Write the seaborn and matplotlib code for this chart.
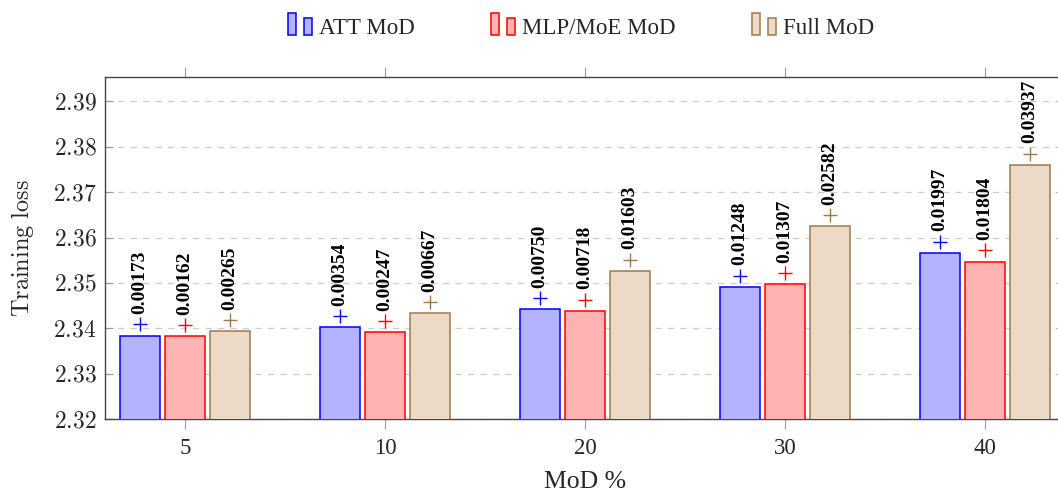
import numpy as np
import pandas as pd
import matplotlib
matplotlib.use('Agg')
import matplotlib.pyplot as plt
import seaborn as sns
from matplotlib.patches import Rectangle
from matplotlib.legend_handler import HandlerBase
from matplotlib.transforms import offset_copy

mod_pct = ['5', '10', '20', '30', '40']
series = ['ATT MoD', 'MLP/MoE MoD', 'Full MoD']

att_loss = [2.33840, 2.34021, 2.34417, 2.34915, 2.35664]
mlp_loss = [2.33829, 2.33914, 2.34385, 2.34974, 2.35471]
full_loss = [2.33932, 2.34334, 2.35270, 2.36249, 2.37604]

att_delta = ['0.00173', '0.00354', '0.00750', '0.01248', '0.01997']
mlp_delta = ['0.00162', '0.00247', '0.00718', '0.01307', '0.01804']
full_delta = ['0.00265', '0.00667', '0.01603', '0.02582', '0.03937']

fills = ['#b3b3ff', '#ffb3b3', '#ecd9c6']
edges = ['#0000ff', '#ff0000', '#a07850']

rows = []
for name, losses in zip(series, [att_loss, mlp_loss, full_loss]):
    for p, v in zip(mod_pct, losses):
        rows.append({'MoD': p, 'Series': name, 'Loss': v})
df = pd.DataFrame(rows)

sns.set_style('white')
plt.rcParams['font.family'] = ['Liberation Serif', 'DejaVu Serif']
plt.rcParams['mathtext.fontset'] = 'cm'

fig = plt.figure(figsize=(10.58, 4.95), dpi=100)
ax = fig.add_axes([105 / 1058, 1 - 419 / 495, 960 / 1058, 342 / 495])

sns.barplot(data=df, x='MoD', y='Loss', hue='Series', order=mod_pct,
            hue_order=series, palette=fills, saturation=1, width=0.675,
            gap=0.111, linewidth=1.1, ax=ax, legend=False, zorder=3)

# edges per series
for cont, ec in zip(ax.containers, edges):
    for bar in cont:
        bar.set_edgecolor(ec)

deltas = [att_delta, mlp_delta, full_delta]
for cont, ec, labs in zip(ax.containers, edges, deltas):
    for bar, lab in zip(cont, labs):
        cx = bar.get_x() + bar.get_width() / 2
        top = bar.get_height() + bar.get_y()
        tr = offset_copy(ax.transData, fig=fig, x=0, y=8, units='points')
        ax.plot([cx], [top], marker='+', markersize=10, markeredgewidth=1.0,
                color=ec, transform=tr, zorder=4, clip_on=False)
        ax.annotate(lab, (cx, top), xytext=(0, 15.5), textcoords='offset points',
                    rotation=90, ha='center', va='bottom', fontsize=14,
                    fontweight='bold', color='black', zorder=5)

ax.set_ylim(2.32, 2.3954)
ax.set_xlim(-0.4, 4.4)
yt = np.arange(2.32, 2.395, 0.01)
ax.set_yticks(yt)
ax.set_yticklabels([f'${v:.2f}$' for v in yt], fontsize=17)
ax.tick_params(axis='x', direction='out', top=True, bottom=True, length=7,
               color='#999999', labelsize=16.5, pad=7)
ax.tick_params(axis='y', direction='in', left=True, right=True, length=6,
               color='#999999', pad=6)
ax.yaxis.grid(True, linestyle=(0, (5, 5)), color='#cccccc', linewidth=0.9, zorder=0)
ax.set_axisbelow(True)
for s in ax.spines.values():
    s.set_color('#444444')
    s.set_linewidth(1.0)

ax.set_xlabel('MoD %', fontsize=18.5, labelpad=8)
ax.set_ylabel(r'$\mathrm{Training\ loss}$', fontsize=17.5, labelpad=12)


class TwoBarHandler(HandlerBase):
    def create_artists(self, legend, orig_handle, xdescent, ydescent,
                       width, height, fontsize, trans):
        fc, ec = orig_handle
        r1 = Rectangle((-xdescent, -ydescent - 1), width * 0.33, height * 1.38,
                       facecolor=fc, edgecolor=ec, linewidth=1.1, transform=trans)
        r2 = Rectangle((-xdescent + width * 0.67, -ydescent - 1), width * 0.33,
                       height * 1.06, facecolor=fc, edgecolor=ec, linewidth=1.1,
                       transform=trans)
        return [r1, r2]


handles = [(f, e) for f, e in zip(fills, edges)]
ax.legend(handles, series, handler_map={tuple: TwoBarHandler()},
          loc='center', bbox_to_anchor=(581 / 1058, 1 - 28 / 495),
          bbox_transform=fig.transFigure, ncol=3, frameon=False, fontsize=16.5,
          handlelength=1.07, handletextpad=0.31, columnspacing=3.3,
          borderpad=0, borderaxespad=0)

fig.savefig('out.png', dpi=100)
